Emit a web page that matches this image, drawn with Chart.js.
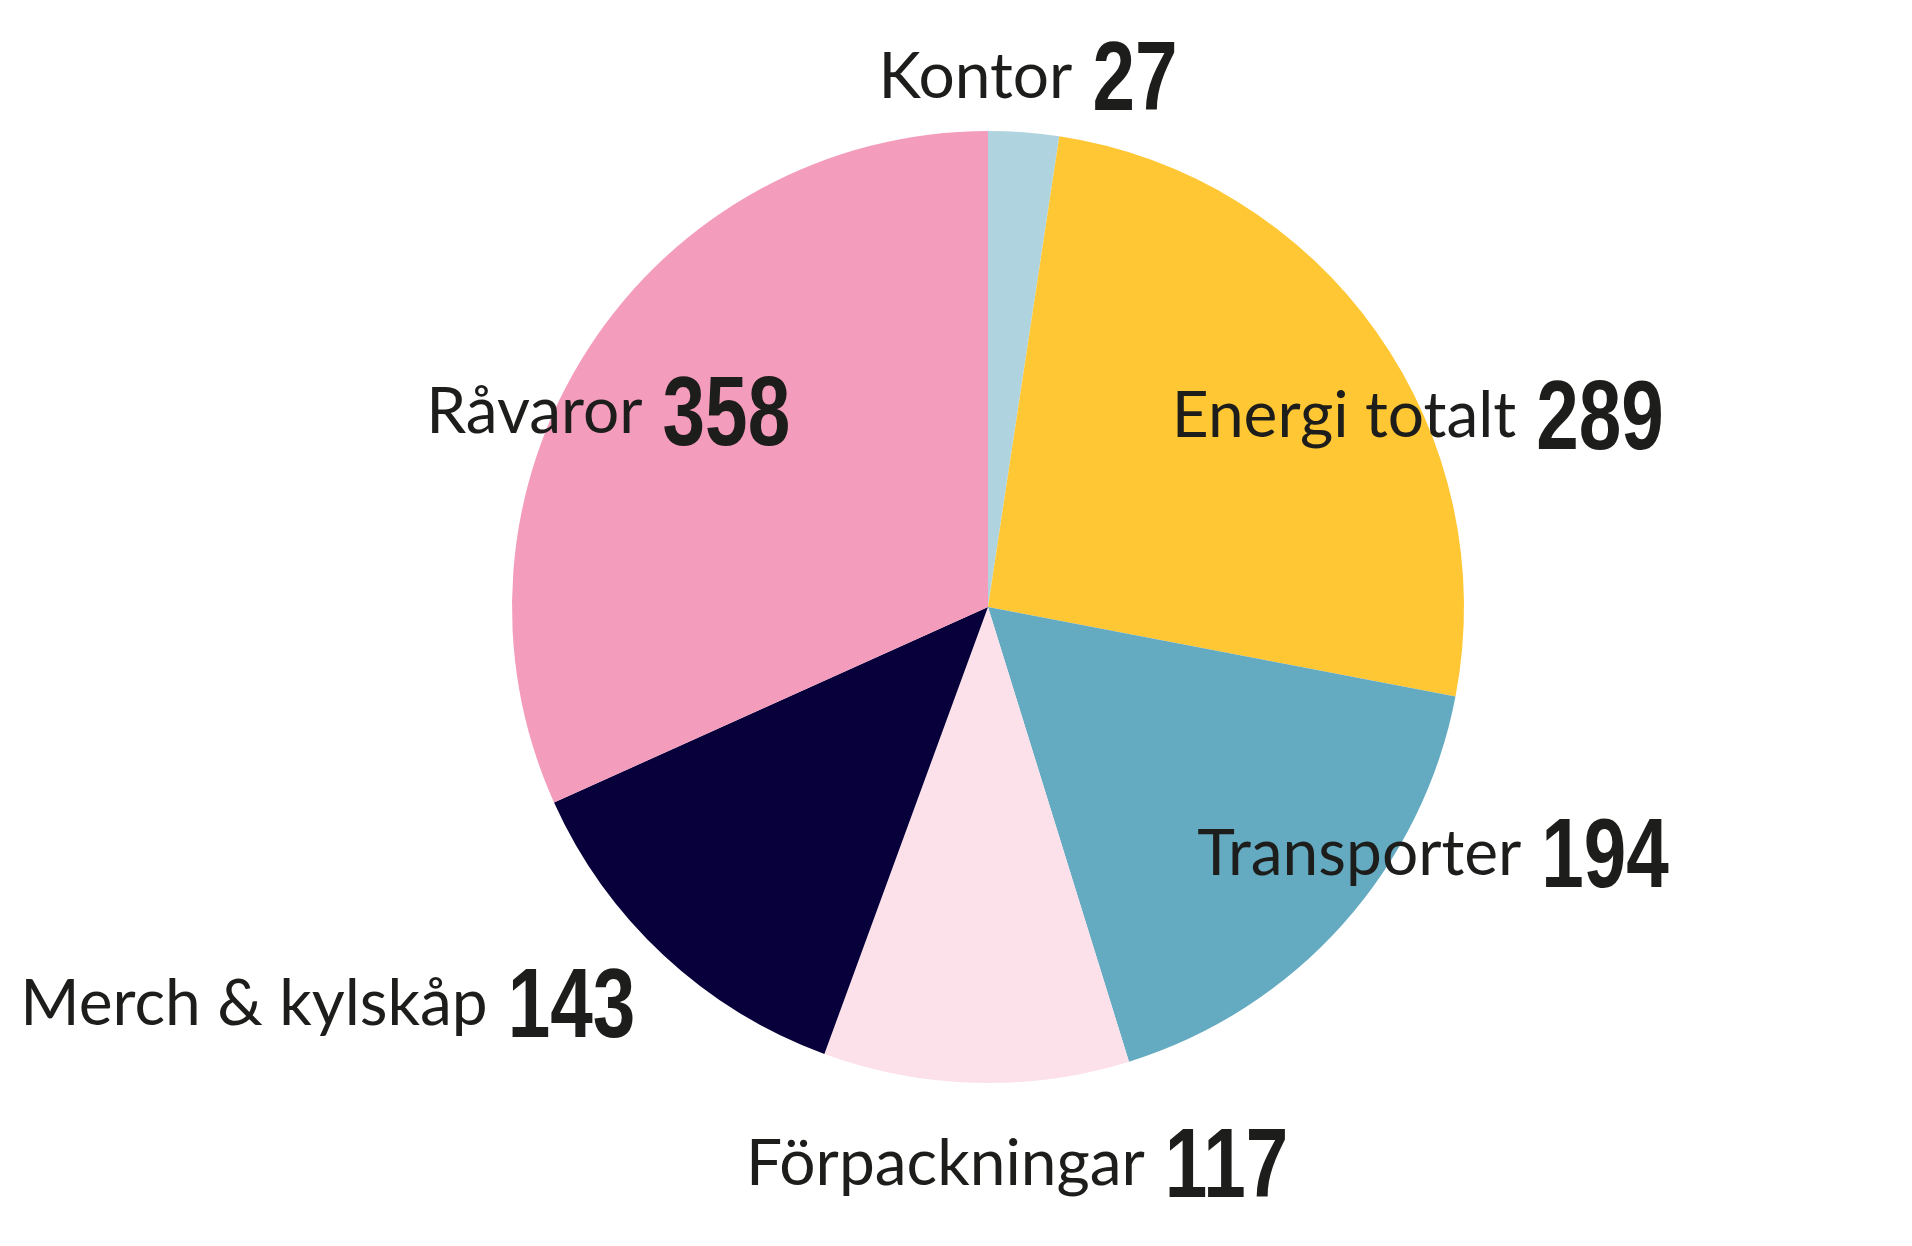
<!DOCTYPE html>
<html>
<head>
<meta charset="utf-8">
<script src="https://cdn.jsdelivr.net/npm/chart.js@4/dist/chart.umd.min.js"></script>
<style>
  html, body { margin: 0; padding: 0; background: #fff; }
  #wrap { width: 1912px; height: 1246px; position: relative; }
</style>
</head>
<body>
<div id="wrap"><canvas id="pie"></canvas></div>
<script>
// data, clockwise from the top
var categories = ['Kontor', 'Energi totalt', 'Transporter', 'Förpackningar', 'Merch & kylskåp', 'Råvaror'];
var values = [27, 289, 194, 117, 143, 358];
var colors = ['#b0d4df', '#ffc733', '#64aac1', '#fce0ea', '#07003a', '#f49cbc'];

// where each label sits, relative to pie centre, in units of the radius
var labelOffsets = [[0.084, -1.118], [0.903, -0.405], [0.935, 0.514], [0.061, 1.167], [-1.387, 0.829], [-0.798, -0.413]];

var labelPlugin = {
    id: 'pieLabels',
    afterDatasetsDraw: function (chart) {
        var ctx = chart.ctx;
        var arcs = chart.getDatasetMeta(0).data;
        var cx = arcs[0].x, cy = arcs[0].y, r = arcs[0].outerRadius;
        var textFont = '64px Lato, "Noto Sans", sans-serif';
        var numFont = 'bold 98px "Liberation Sans", Arial, sans-serif';
        var sx = 0.78, gap = 20;
        ctx.save();
        ctx.fillStyle = '#1d1d1b';
        ctx.textBaseline = 'alphabetic';
        ctx.textAlign = 'left';
        categories.forEach(function (name, i) {
            var num = String(values[i]);
            ctx.font = textFont;
            var tw = ctx.measureText(name).width;
            ctx.font = numFont;
            var nw = ctx.measureText(num).width * sx;
            var total = tw + gap + nw;
            var mx = cx + labelOffsets[i][0] * r;
            var my = cy + labelOffsets[i][1] * r;
            var x0 = mx - total / 2;
            var base = my + 23;
            ctx.font = textFont;
            ctx.fillText(name, x0, base);
            ctx.save();
            ctx.font = numFont;
            ctx.translate(x0 + tw + gap, base + 12);
            ctx.scale(sx, 1);
            ctx.fillText(num, 0, 0);
            ctx.restore();
        });
        ctx.restore();
    }
};

new Chart(document.getElementById('pie'), {
    type: 'pie',
    data: {
        labels: categories,
        datasets: [{
            data: values,
            backgroundColor: colors,
            borderWidth: 0
        }]
    },
    options: {
        responsive: true,
        maintainAspectRatio: false,
        animation: false,
        radius: 476,
        layout: { padding: { left: 64, right: 0, top: 0, bottom: 32 } },
        plugins: {
            legend: { display: false },
            tooltip: { enabled: false }
        }
    },
    plugins: [labelPlugin]
});
</script>
</body>
</html>
